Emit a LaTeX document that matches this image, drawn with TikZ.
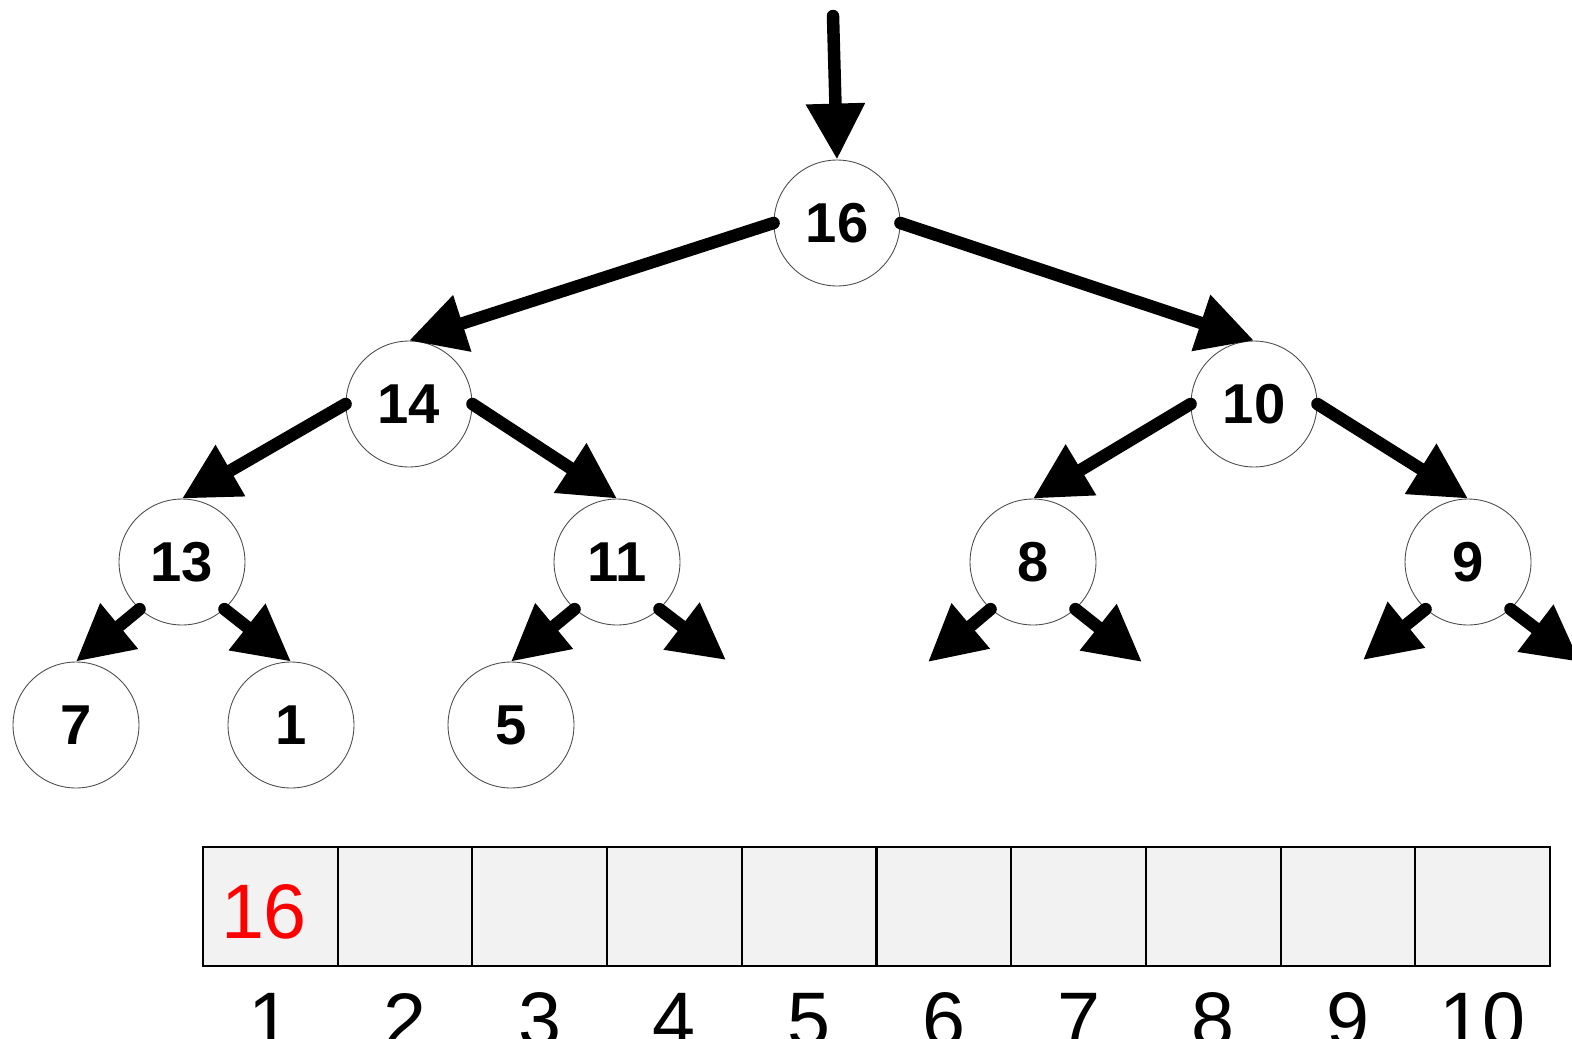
\documentclass[tikz,border=0pt]{standalone}
\usepackage{fontspec}
\setmainfont{Liberation Sans}
\usetikzlibrary{arrows.meta}
\begin{document}
\begin{tikzpicture}[x=0.02cm,y=-0.02cm,
  tnode/.style={circle,draw=black!70,line width=0.5pt,minimum size=2.52cm,inner sep=0pt,fill=white,
    font=\bfseries\fontsize{32}{32}\selectfont},
  edge/.style={line width=0.25cm,line cap=round,-{Triangle[width=1.12cm,length=1.12cm]}},
  cell/.style={draw=black,line width=1.2pt,fill=black!5,minimum width=2.694cm,minimum height=2.38cm,inner sep=0pt,outer sep=0pt},
  idx/.style={inner sep=0pt,font=\fontsize{44}{44}\selectfont}]
\useasboundingbox (0,0) rectangle (1572,1038);
\clip (0,0) rectangle (1572,1038);
% tree nodes
\node[tnode] (n16) at (837,223) {16};
\node[tnode] (n14) at (409,404) {14};
\node[tnode] (n10) at (1254,404) {10};
\node[tnode] (n13) at (182,562) {13};
\node[tnode] (n11) at (617,562) {11};
\node[tnode] (n8) at (1033,562) {8};
\node[tnode] (n9) at (1468,562) {9};
\node[tnode] (n7) at (76,725) {7};
\node[tnode] (n1) at (291,725) {1};
\node[tnode] (n5) at (511,725) {5};
% free ends
\coordinate (top) at (833,16);
\coordinate (e11r) at (726,660);
\coordinate (e8l) at (928,662);
\coordinate (e8r) at (1142,662);
\coordinate (e9l) at (1363,660);
\coordinate (e9r) at (1580,662);
% connectors
\draw[edge] (top) -- (n16.north);
\draw[edge] (n16.west) -- (n14.north);
\draw[edge] (n16.east) -- (n10.north);
\draw[edge] (n14.west) -- (n13.north);
\draw[edge] (n14.east) -- (n11.north);
\draw[edge] (n10.west) -- (n8.north);
\draw[edge] (n10.east) -- (n9.north);
\draw[edge] (n13.228) -- (n7.north);
\draw[edge] (n13.312) -- (n1.north);
\draw[edge] (n11.228) -- (n5.north);
\draw[edge] (n11.312) -- (e11r);
\draw[edge] (n8.228) -- (e8l);
\draw[edge] (n8.312) -- (e8r);
\draw[edge] (n9.228) -- (e9l);
\draw[edge] (n9.312) -- (e9r);
% array
\foreach \i in {1,...,10} {
  \node[cell] (c\i) at ({203+134.7*(\i-0.5)},906.5) {};
  \node[idx] (i\i) at ({203+134.7*(\i-0.5)},1020) {\i};
}
\node[idx,text=red] (v1) at (264,912) {16};
\end{tikzpicture}
\end{document}
